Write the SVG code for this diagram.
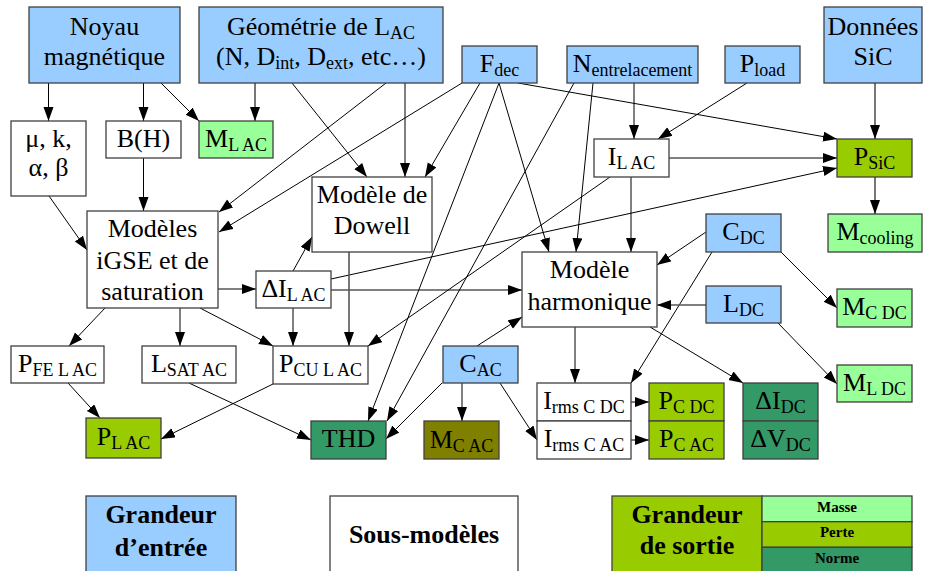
<svg xmlns="http://www.w3.org/2000/svg" width="925" height="571" viewBox="0 0 925 571">
<defs>
<marker id="ah" markerUnits="userSpaceOnUse" markerWidth="15" markerHeight="11" refX="14" refY="5" orient="auto">
<path d="M0,0 L14,5 L0,10 z" fill="#000"/>
</marker>
<style>
rect{stroke:#404040;stroke-width:1.3}
.in{fill:#99ccff}
.sm{fill:#ffffff}
.ma{fill:#99ff99}
.pe{fill:#99cc00}
.no{fill:#339966}
.ol{fill:#808000}
text{font-family:"Liberation Serif","Times New Roman",serif;font-size:26px;fill:#000;text-anchor:middle}
.s{font-size:18px}
.lg{font-weight:bold}
.lgs{font-weight:bold;font-size:15px}
#edges line{stroke:#000;stroke-width:1;marker-end:url(#ah)}
#edges line.g{stroke:#555;stroke-width:1.6}
</style>
</defs>
<rect width="925" height="571" fill="#fff" style="stroke:none"/>

<g id="edges">
<line x1="48.5" y1="83" x2="48.5" y2="121"/>
<line x1="143.5" y1="83" x2="143.5" y2="121"/>
<line x1="161" y1="83" x2="199" y2="121"/>
<line class="g" x1="255" y1="83" x2="255" y2="121"/>
<line x1="292" y1="83" x2="367" y2="177"/>
<line x1="405" y1="83" x2="405" y2="177"/>
<line x1="386" y1="83" x2="219" y2="212"/>
<line x1="462" y1="83" x2="219" y2="232"/>
<line x1="480" y1="83" x2="425" y2="177"/>
<line x1="499" y1="83" x2="368" y2="421"/>
<line x1="499" y1="83" x2="549" y2="252"/>
<line x1="518" y1="83" x2="837" y2="139"/>
<line x1="574" y1="83" x2="387" y2="421"/>
<line x1="593" y1="83" x2="576" y2="252"/>
<line x1="634" y1="83" x2="634" y2="139"/>
<line x1="747" y1="83" x2="658" y2="139"/>
<line class="g" x1="875" y1="83" x2="875" y2="139"/>
<line x1="669" y1="158" x2="837" y2="158"/>
<line x1="331" y1="279" x2="837" y2="168"/>
<line class="g" x1="875" y1="177" x2="875" y2="214"/>
<line x1="631" y1="177" x2="631" y2="252"/>
<line x1="610" y1="177" x2="368" y2="346"/>
<line x1="218" y1="289" x2="256" y2="289"/>
<line x1="293" y1="271" x2="312" y2="237"/>
<line x1="331" y1="290" x2="522" y2="290"/>
<line x1="293" y1="308" x2="293" y2="346"/>
<line class="g" x1="349" y1="252" x2="349" y2="346"/>
<line x1="105" y1="308" x2="69" y2="346"/>
<line x1="180" y1="308" x2="180" y2="346"/>
<line x1="200" y1="308" x2="273" y2="346"/>
<line x1="49" y1="196" x2="87" y2="250"/>
<line x1="143.5" y1="158" x2="143.5" y2="211"/>
<line x1="68" y1="383" x2="100" y2="418"/>
<line x1="273" y1="384" x2="161" y2="439"/>
<line x1="189" y1="383" x2="311" y2="440"/>
<line x1="442" y1="383" x2="386" y2="439"/>
<line x1="462" y1="383" x2="462" y2="421"/>
<line x1="500" y1="383" x2="537" y2="440"/>
<line x1="477" y1="346" x2="522" y2="317"/>
<line x1="575" y1="327" x2="575" y2="383"/>
<line x1="712" y1="252" x2="631" y2="383"/>
<line x1="706" y1="232" x2="657" y2="265"/>
<line class="g" x1="706" y1="305" x2="657" y2="305"/>
<line x1="650" y1="327" x2="743" y2="383"/>
<line x1="781" y1="252" x2="837" y2="308"/>
<line x1="778" y1="323" x2="837" y2="384"/>
<line x1="631" y1="402" x2="649" y2="402"/>
<line x1="631" y1="440" x2="649" y2="440"/>
</g>

<g id="noyau"><rect class="in" x="29" y="7" width="151" height="76"/><text x="104.5" y="35">Noyau</text><text x="104.5" y="65">magnétique</text></g>
<g id="geometrie"><rect class="in" x="199" y="7" width="244" height="76"/><text x="321" y="35">Géométrie de L<tspan class="s" dy="4">AC</tspan></text><text x="321" y="65">(N, D<tspan class="s" dy="4">int</tspan><tspan dy="-4">, D</tspan><tspan class="s" dy="4">ext</tspan><tspan dy="-4">, etc…)</tspan></text></g>
<g id="fdec"><rect class="in" x="462" y="46" width="75" height="37"/><text x="499.5" y="72">F<tspan class="s" dy="4">dec</tspan></text></g>
<g id="nentrelacement"><rect class="in" x="567" y="46" width="131" height="37"/><text x="632.5" y="72">N<tspan class="s" dy="4">entrelacement</tspan></text></g>
<g id="pload"><rect class="in" x="725" y="46" width="75" height="37"/><text x="762.5" y="72">P<tspan class="s" dy="4">load</tspan></text></g>
<g id="donnees-sic"><rect class="in" x="824" y="7" width="98" height="76"/><text x="873" y="35">Données</text><text x="873" y="65">SiC</text></g>
<g id="mu-k"><rect class="sm" x="11" y="121" width="75" height="75"/><text x="48.5" y="147">μ, k,</text><text x="48.5" y="176">α, β</text></g>
<g id="bh"><rect class="sm" x="106" y="121" width="75" height="37"/><text x="143.5" y="147">B(H)</text></g>
<g id="ml-ac"><rect class="ma" x="199" y="121" width="74" height="37"/><text x="236" y="147">M<tspan class="s" dy="4">L AC</tspan></text></g>
<g id="il-ac"><rect class="sm" x="594" y="139" width="75" height="38"/><text x="631.5" y="165">I<tspan class="s" dy="4">L AC</tspan></text></g>
<g id="psic"><rect class="pe" x="837" y="139" width="75" height="38"/><text x="874.5" y="165">P<tspan class="s" dy="4">SiC</tspan></text></g>
<g id="dowell"><rect class="sm" x="312" y="177" width="120" height="75"/><text x="372" y="203">Modèle de</text><text x="372" y="234">Dowell</text></g>
<g id="igse"><rect class="sm" x="87" y="211" width="131" height="97"/><text x="152.5" y="237">Modèles</text><text x="152.5" y="269">iGSE et de</text><text x="152.5" y="300">saturation</text></g>
<g id="mcooling"><rect class="ma" x="828" y="214" width="94" height="38"/><text x="875" y="240">M<tspan class="s" dy="4">cooling</tspan></text></g>
<g id="cdc"><rect class="in" x="706" y="214" width="75" height="38"/><text x="743.5" y="240">C<tspan class="s" dy="4">DC</tspan></text></g>
<g id="dil-ac"><rect class="sm" x="256" y="271" width="75" height="37"/><text x="293.5" y="297">ΔI<tspan class="s" dy="4">L AC</tspan></text></g>
<g id="harmonique"><rect class="sm" x="522" y="252" width="135" height="75"/><text x="589.5" y="278">Modèle</text><text x="589.5" y="310">harmonique</text></g>
<g id="ldc"><rect class="in" x="706" y="286" width="75" height="37"/><text x="743.5" y="312">L<tspan class="s" dy="4">DC</tspan></text></g>
<g id="mc-dc"><rect class="ma" x="837" y="289" width="75" height="38"/><text x="874.5" y="315">M<tspan class="s" dy="4">C DC</tspan></text></g>
<g id="pfe-l-ac"><rect class="sm" x="11" y="346" width="93" height="37"/><text x="57.5" y="372">P<tspan class="s" dy="4">FE L AC</tspan></text></g>
<g id="lsat-ac"><rect class="sm" x="142" y="346" width="94" height="37"/><text x="189" y="372">L<tspan class="s" dy="4">SAT AC</tspan></text></g>
<g id="pcu-l-ac"><rect class="sm" x="273" y="346" width="95" height="38"/><text x="320.5" y="372">P<tspan class="s" dy="4">CU L AC</tspan></text></g>
<g id="cac"><rect class="in" x="443" y="346" width="75" height="37"/><text x="480.5" y="372">C<tspan class="s" dy="4">AC</tspan></text></g>
<g id="ml-dc"><rect class="ma" x="837" y="365" width="75" height="37"/><text x="874.5" y="391">M<tspan class="s" dy="4">L DC</tspan></text></g>
<g id="irms-c-dc"><rect class="sm" x="537" y="383" width="94" height="38"/><text x="584" y="409">I<tspan class="s" dy="4">rms C DC</tspan></text></g>
<g id="irms-c-ac"><rect class="sm" x="537" y="421" width="94" height="38"/><text x="584" y="447">I<tspan class="s" dy="4">rms C AC</tspan></text></g>
<g id="pc-dc"><rect class="pe" x="649" y="383" width="75" height="38"/><text x="686.5" y="409">P<tspan class="s" dy="4">C DC</tspan></text></g>
<g id="pc-ac"><rect class="pe" x="649" y="421" width="75" height="38"/><text x="686.5" y="447">P<tspan class="s" dy="4">C AC</tspan></text></g>
<g id="di-dc"><rect class="no" x="743" y="383" width="75" height="38"/><text x="780.5" y="409">ΔI<tspan class="s" dy="4">DC</tspan></text></g>
<g id="dv-dc"><rect class="no" x="743" y="421" width="75" height="38"/><text x="780.5" y="447">ΔV<tspan class="s" dy="4">DC</tspan></text></g>
<g id="pl-ac"><rect class="pe" x="86" y="418" width="75" height="40"/><text x="123.5" y="445">P<tspan class="s" dy="4">L AC</tspan></text></g>
<g id="thd"><rect class="no" x="311" y="421" width="75" height="38"/><text x="348.5" y="447">THD</text></g>
<g id="mc-ac"><rect class="ol" x="424" y="421" width="75" height="38"/><text x="461.5" y="448">M<tspan class="s" dy="4">C AC</tspan></text></g>

<g id="legend-entree"><rect class="in" x="86" y="496" width="150" height="80"/><text class="lg" x="161" y="523">Grandeur</text><text class="lg" x="161" y="556">d’entrée</text></g>
<g id="legend-sous-modeles"><rect class="sm" x="330" y="496" width="188" height="80"/><text class="lg" x="424" y="543">Sous-modèles</text></g>
<g id="legend-sortie"><rect class="pe" x="612" y="496" width="150" height="80"/><text class="lg" x="687" y="523">Grandeur</text><text class="lg" x="687" y="554">de sortie</text>
<rect class="ma" x="762" y="496" width="150" height="25.7"/><text class="lgs" x="837" y="512">Masse</text>
<rect class="pe" x="762" y="521.7" width="150" height="25.6"/><text class="lgs" x="837" y="537">Perte</text>
<rect class="no" x="762" y="547.3" width="150" height="30"/><text class="lgs" x="837" y="563">Norme</text></g>
</svg>
